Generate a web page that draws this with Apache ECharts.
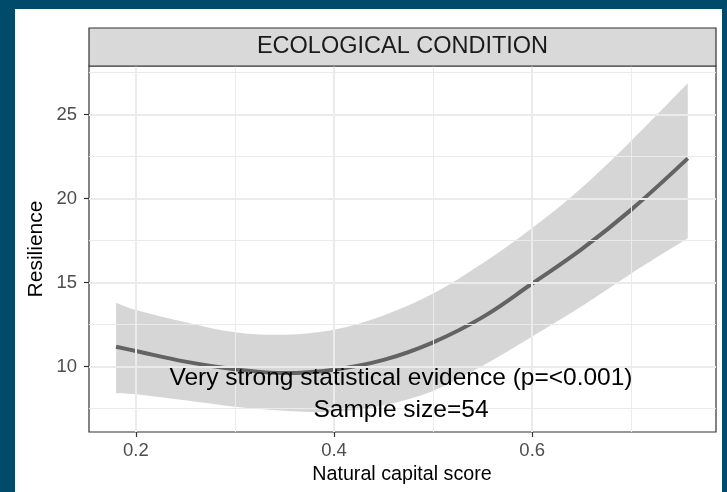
<!DOCTYPE html>
<html>
<head>
<meta charset="utf-8">
<script src="https://cdn.jsdelivr.net/npm/echarts@6/dist/echarts.min.js"></script>
<style>
html,body{margin:0;padding:0;width:727px;height:492px;background:#004a6b;overflow:hidden;}
#paper{position:absolute;left:15px;top:9px;width:707px;height:483px;background:#ffffff;}
#chart{position:absolute;left:0;top:0;width:727px;height:492px;}
</style>
</head>
<body>
<div id="paper"></div>
<div id="chart"></div>
<script>
// Data
const xValues = [0.18, 0.20, 0.25, 0.30, 0.35, 0.40, 0.45, 0.50, 0.55, 0.60, 0.65, 0.70, 0.757];
const fitValues = [11.19, 10.93, 10.30, 9.85, 9.62, 9.82, 10.40, 11.45, 12.95, 14.95, 17.00, 19.35, 22.40];
const upperValues = [13.81, 13.38, 12.65, 12.05, 11.90, 12.20, 13.05, 14.35, 16.15, 18.25, 20.65, 23.45, 26.87];
const lowerValues = [8.42, 8.36, 8.00, 7.62, 7.38, 7.32, 7.70, 8.55, 10.05, 11.80, 13.60, 15.55, 17.64];
const xTickValues = [0.2, 0.4, 0.6];
const xMinorValues = [0.3, 0.5, 0.7];
const yTickValues = [10, 15, 20, 25];
const yMinorValues = [7.5, 12.5, 17.5, 22.5, 27.5];
const panelTitle = 'ECOLOGICAL CONDITION';
const xTitle = 'Natural capital score';
const yTitle = 'Resilience';
const noteLines = ['Very strong statistical evidence (p=<0.001)', 'Sample size=54'];

const FONT = '"Liberation Sans", Arial, Helvetica, sans-serif';
const chart = echarts.init(document.getElementById('chart'), null, {renderer: 'canvas'});

const bandData = xValues.map((x, i) => [x, lowerValues[i], upperValues[i]]);
const fitData = xValues.map((x, i) => [x, fitValues[i]]);

const gridLines = [];
xTickValues.forEach(v => gridLines.push({xAxis: v, lineStyle: {color: '#ebebeb', width: 2, type: 'solid'}}));
xMinorValues.forEach(v => gridLines.push({xAxis: v, lineStyle: {color: '#ebebeb', width: 1, type: 'solid'}}));
yTickValues.forEach(v => gridLines.push({yAxis: v, lineStyle: {color: '#ebebeb', width: 2, type: 'solid'}}));
yMinorValues.forEach(v => gridLines.push({yAxis: v, lineStyle: {color: '#ebebeb', width: 1, type: 'solid'}}));

// Catmull-Rom -> cubic Bezier path through pixel points
function curveSegs(pts) {
  let d = '';
  for (let i = 0; i < pts.length - 1; i++) {
    const p0 = pts[Math.max(i - 1, 0)], p1 = pts[i], p2 = pts[i + 1], p3 = pts[Math.min(i + 2, pts.length - 1)];
    const c1 = [p1[0] + (p2[0] - p0[0]) / 6, p1[1] + (p2[1] - p0[1]) / 6];
    const c2 = [p2[0] - (p3[0] - p1[0]) / 6, p2[1] - (p3[1] - p1[1]) / 6];
    d += ' C' + c1[0] + ',' + c1[1] + ' ' + c2[0] + ',' + c2[1] + ' ' + p2[0] + ',' + p2[1];
  }
  return d;
}

function renderBand(params, api) {
  if (params.dataIndex !== 0) return null;
  const up = [], lo = [];
  for (let i = 0; i < bandData.length; i++) {
    up.push(api.coord([bandData[i][0], bandData[i][2]]));
    lo.push(api.coord([bandData[i][0], bandData[i][1]]));
  }
  const loRev = lo.slice().reverse();
  let d = 'M' + up[0][0] + ',' + up[0][1] + curveSegs(up);
  d += ' L' + loRev[0][0] + ',' + loRev[0][1] + curveSegs(loRev) + ' Z';
  return {
    type: 'path',
    shape: {pathData: d},
    style: {fill: 'rgba(153,153,153,0.4)', stroke: null}
  };
}

const option = {
  animation: false,
  backgroundColor: 'transparent',
  grid: {left: 89, top: 66, right: 11, bottom: 60, show: true, borderColor: '#333333', borderWidth: 1.2, backgroundColor: 'transparent', containLabel: false},
  xAxis: {
    type: 'value', min: 0.1527, max: 0.7855,
    axisLine: {show: false},
    splitLine: {show: false},
    axisTick: {show: true, length: 5, lineStyle: {color: '#333333', width: 1.2}, customValues: xTickValues},
    axisLabel: {show: true, customValues: xTickValues, margin: 9, color: '#4d4d4d', fontSize: 18.5, fontFamily: FONT,
      formatter: v => v.toFixed(1)}
  },
  yAxis: {
    type: 'value', min: 6.11, max: 27.9,
    axisLine: {show: false},
    splitLine: {show: false},
    axisTick: {show: true, length: 5, lineStyle: {color: '#333333', width: 1.2}, customValues: yTickValues},
    axisLabel: {show: true, customValues: yTickValues, margin: 12, color: '#4d4d4d', fontSize: 18.5, fontFamily: FONT,
      formatter: v => String(v)}
  },
  series: [
    {
      type: 'line', name: 'grid', data: [], symbol: 'none', z: 1, silent: true,
      markLine: {silent: true, symbol: ['none', 'none'], label: {show: false}, data: gridLines, animation: false}
    },
    {
      type: 'custom', name: 'band', data: bandData, z: 2, silent: true,
      encode: {x: 0, y: [1, 2]},
      renderItem: renderBand, clip: true
    },
    {
      type: 'line', name: 'fit', data: fitData, symbol: 'none', smooth: 0.4, z: 3,
      lineStyle: {width: 4, color: '#636363'}, silent: true
    }
  ],
  graphic: [
    {type: 'rect', shape: {x: 89, y: 28, width: 627, height: 38}, style: {fill: '#d9d9d9', stroke: '#333333', lineWidth: 1.2}, z: 10},
    {type: 'text', x: 402.5, y: 47, style: {text: panelTitle, fill: '#1a1a1a', font: '23.5px ' + FONT, align: 'center', verticalAlign: 'middle'}, z: 11},
    {type: 'text', x: 402, y: 475, style: {text: xTitle, fill: '#000000', font: '19.7px ' + FONT, align: 'center', verticalAlign: 'middle'}, z: 11},
    {type: 'text', x: 36, y: 249, rotation: Math.PI / 2, style: {text: yTitle, fill: '#000000', font: '21px ' + FONT, align: 'center', verticalAlign: 'middle'}, z: 11},
    {type: 'text', x: 401, y: 378, style: {text: noteLines[0], fill: '#000000', font: '24.5px ' + FONT, align: 'center', verticalAlign: 'middle'}, z: 11},
    {type: 'text', x: 401, y: 410, style: {text: noteLines[1], fill: '#000000', font: '24.5px ' + FONT, align: 'center', verticalAlign: 'middle'}, z: 11}
  ]
};
chart.setOption(option);
</script>
</body>
</html>
